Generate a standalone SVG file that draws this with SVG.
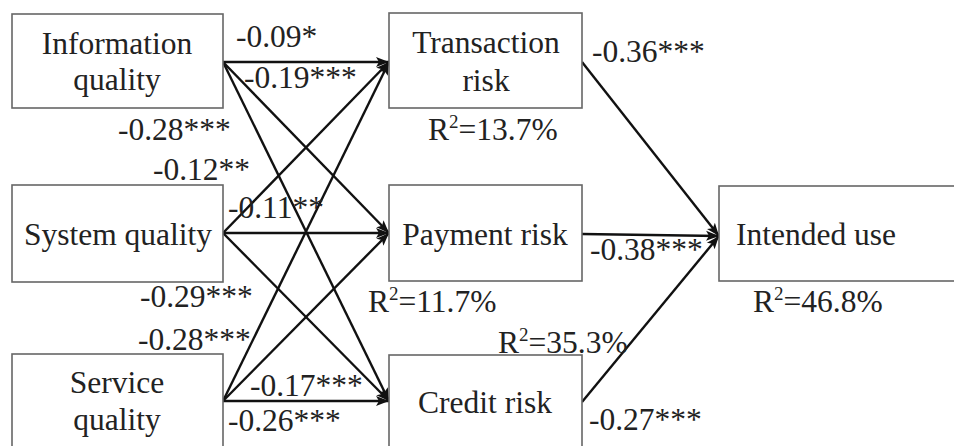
<svg xmlns="http://www.w3.org/2000/svg" width="954" height="446" viewBox="0 0 954 446">
<style>
.box{fill:#fff;stroke:#666;stroke-width:1.6}
text{font-family:"Liberation Serif","Times New Roman",Times,serif;font-size:31.5px;fill:#222}
.c{text-anchor:middle}
.sup{font-size:19px}
.ln{stroke:#111;stroke-width:2.4;fill:none}
</style>
<defs>
<marker id="ah" markerUnits="userSpaceOnUse" markerWidth="14" markerHeight="12" refX="13" refY="6" orient="auto">
<path d="M0,1 L13,6 L0,11 L3,6 Z" fill="#111"/>
</marker>
</defs>
<rect width="954" height="446" fill="#fff"/>
<g id="connectors">
<line class="ln" x1="223" y1="62" x2="389" y2="62" marker-end="url(#ah)"/>
<line class="ln" x1="223" y1="62" x2="389" y2="233" marker-end="url(#ah)"/>
<line class="ln" x1="223" y1="62" x2="389" y2="401" marker-end="url(#ah)"/>
<line class="ln" x1="223" y1="233" x2="389" y2="62" marker-end="url(#ah)"/>
<line class="ln" x1="223" y1="233" x2="389" y2="233" marker-end="url(#ah)"/>
<line class="ln" x1="223" y1="233" x2="389" y2="401" marker-end="url(#ah)"/>
<line class="ln" x1="223" y1="401" x2="389" y2="62" marker-end="url(#ah)"/>
<line class="ln" x1="223" y1="401" x2="389" y2="233" marker-end="url(#ah)"/>
<line class="ln" x1="223" y1="401" x2="389" y2="401" marker-end="url(#ah)"/>
<line class="ln" x1="582" y1="62" x2="719" y2="236" marker-end="url(#ah)"/>
<line class="ln" x1="582" y1="234" x2="719" y2="236" marker-end="url(#ah)"/>
<line class="ln" x1="582" y1="402" x2="719" y2="236" marker-end="url(#ah)"/>
</g>
<g id="labels">
<text x="236" y="47">-0.09*</text>
<text x="244" y="88">-0.19***</text>
<text x="118" y="140">-0.28***</text>
<text x="153" y="180">-0.12**</text>
<text x="228" y="218">-0.11**</text>
<text x="140" y="307">-0.29***</text>
<text x="138" y="350">-0.28***</text>
<text x="250" y="396">-0.17***</text>
<text x="228" y="431">-0.26***</text>
<text x="592" y="62">-0.36***</text>
<text x="590" y="260">-0.38***</text>
<text x="589" y="430">-0.27***</text>
<text x="428" y="140">R<tspan class="sup" dy="-12">2</tspan><tspan dy="12">=13.7%</tspan></text>
<text x="368" y="312">R<tspan class="sup" dy="-12">2</tspan><tspan dy="12">=11.7%</tspan></text>
<text x="498" y="353">R<tspan class="sup" dy="-12">2</tspan><tspan dy="12">=35.3%</tspan></text>
<text x="753" y="312">R<tspan class="sup" dy="-12">2</tspan><tspan dy="12">=46.8%</tspan></text>
</g>
<g id="info">
<rect class="box" x="12" y="14" width="211" height="94"/>
<text class="c" x="117" y="54">Information</text>
<text class="c" x="117" y="90">quality</text>
</g>
<g id="system">
<rect class="box" x="12" y="185" width="211" height="97"/>
<text class="c" x="118" y="245">System quality</text>
</g>
<g id="service">
<rect class="box" x="12" y="354" width="211" height="110"/>
<text class="c" x="117" y="393">Service</text>
<text class="c" x="117" y="430">quality</text>
</g>
<g id="transaction">
<rect class="box" x="389" y="13" width="193" height="95"/>
<text class="c" x="486" y="53">Transaction</text>
<text class="c" x="486" y="91">risk</text>
</g>
<g id="payment">
<rect class="box" x="389" y="185" width="193" height="96"/>
<text class="c" x="485" y="245">Payment risk</text>
</g>
<g id="credit">
<rect class="box" x="389" y="355" width="193" height="110"/>
<text class="c" x="485" y="413">Credit risk</text>
</g>
<g id="intended">
<rect class="box" x="719" y="186" width="250" height="95"/>
<text class="c" x="816" y="245">Intended use</text>
</g>
</svg>
